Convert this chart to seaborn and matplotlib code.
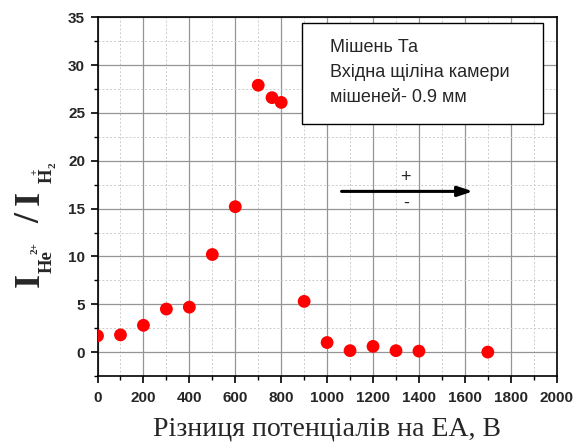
import matplotlib
matplotlib.use("Agg")
import matplotlib.pyplot as plt
import seaborn as sns
import pandas as pd
from matplotlib.ticker import MultipleLocator
from matplotlib.patches import Rectangle

# Data
voltage = [0, 100, 200, 300, 400, 500, 600, 700, 760, 800, 900, 1000, 1100, 1200, 1300, 1400, 1700]
ratio = [1.7, 1.8, 2.8, 4.5, 4.7, 10.2, 15.2, 27.9, 26.6, 26.1, 5.3, 1.0, 0.15, 0.6, 0.15, 0.1, 0.0]
x_ticks = [0, 200, 400, 600, 800, 1000, 1200, 1400, 1600, 1800, 2000]
y_ticks = [0, 5, 10, 15, 20, 25, 30, 35]
legend_lines = ["Мішень Та", "Вхідна щіліна камери", "мішеней- 0.9 мм"]
x_label = "Різниця потенціалів на ЕА, В"

sns.set_style("white")
plt.rcParams['font.family'] = ['Liberation Sans', 'DejaVu Sans']

df = pd.DataFrame({"V": voltage, "R": ratio})

W, H = 586, 448
fig = plt.figure(figsize=(W / 100, H / 100), dpi=100)
ax = fig.add_axes([0.1664, 0.1607, 0.950 - 0.1664, 0.9614 - 0.1607])

ax.xaxis.set_minor_locator(MultipleLocator(100))
ax.yaxis.set_minor_locator(MultipleLocator(2.5))
ax.grid(which='major', color='#959595', linestyle='-', linewidth=0.9, zorder=0)
ax.grid(which='minor', color='#cccccc', linestyle=(0, (2, 2)), linewidth=0.7, zorder=0)
ax.set_axisbelow(True)

sns.scatterplot(data=df, x="V", y="R", ax=ax, color='#ff0000', s=85,
                edgecolor='none', zorder=3, legend=False)

ax.set_xlim(0, 2000)
ax.set_ylim(-2.5, 35)
ax.set_xticks(x_ticks)
ax.set_yticks(y_ticks)
ax.tick_params(which='major', direction='out', length=5, width=1.2, color='black',
               labelsize=11, pad=4)
ax.tick_params(axis='x', which='major', pad=6)
ax.tick_params(which='minor', direction='out', length=3, width=1.0, color='black')
ax.tick_params(axis='both', which='both', bottom=True, left=True, top=False, right=False)
for lab in ax.get_xticklabels() + ax.get_yticklabels():
    lab.set_fontweight('bold')
for sp in ax.spines.values():
    sp.set_color('black')
    sp.set_linewidth(1.2)

ax.set_xlabel(x_label, fontsize=20, family=['Liberation Serif', 'DejaVu Serif'], labelpad=8)
ax.set_ylabel("")

# Y label composed from rotated pieces (positions in pixels from top-left)
serif = ['Liberation Serif', 'DejaVu Serif']
def piece(s, size, xb, ys):
    fig.text(xb / W, 1 - ys / H, s, fontsize=size, fontweight='bold', family=serif,
             rotation=90, rotation_mode='anchor', ha='left', va='baseline')

piece("I", 26, 39, 287)
piece("He", 13.5, 52, 273)
piece("2+", 8, 37, 254)
piece("/", 26, 39, 223)
piece("I", 26, 39, 205)
piece("H", 13.5, 52, 183)
piece("+", 8, 37, 175)
piece("2", 8, 55, 168)

# Info box
ax.add_patch(Rectangle((889, 23.85), 1940 - 889, 34.37 - 23.85, facecolor='white',
                       edgecolor='black', linewidth=1.0, zorder=4))
for txt, yv in zip(legend_lines, [31.8, 29.2, 26.6]):
    ax.text(1013, yv, txt, fontsize=13, va='center', ha='left', zorder=5)

# Arrow
ax.annotate("", xy=(1635, 16.8), xytext=(1063, 16.8),
            arrowprops=dict(arrowstyle='-|>,head_length=0.9,head_width=0.3', color='black',
                            lw=2.2, shrinkA=0, shrinkB=0),
            zorder=5)
ax.text(1343, 18.2, "+", fontsize=13, ha='center', va='center')
ax.text(1343, 15.6, "-", fontsize=13, ha='center', va='center')

fig.savefig("out.png", dpi=100)
